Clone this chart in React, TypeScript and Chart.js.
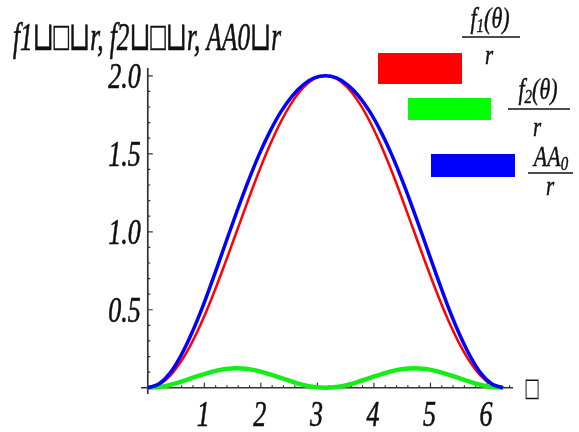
import { useEffect, useRef } from "react";
import { Chart, registerables } from "chart.js";

Chart.register(...registerables);

// theta samples (0 .. 2π)
const thetas = [
  0, 0.196, 0.393, 0.589, 0.785, 0.982, 1.178, 1.374, 1.571, 1.767, 1.963,
  2.16, 2.356, 2.553, 2.749, 2.945, 3.142, 3.338, 3.534, 3.731, 3.927, 4.123,
  4.32, 4.516, 4.712, 4.909, 5.105, 5.301, 5.498, 5.694, 5.89, 6.087, 6.283,
];
// f1(θ)/r  (red)
const f1Values = [
  0, 0.019, 0.076, 0.169, 0.293, 0.444, 0.617, 0.805, 1.0, 1.195, 1.383,
  1.556, 1.707, 1.831, 1.924, 1.981, 2.0, 1.981, 1.924, 1.831, 1.707, 1.556,
  1.383, 1.195, 1.0, 0.805, 0.617, 0.444, 0.293, 0.169, 0.076, 0.019, 0,
];
// f2(θ)/r  (green)
const f2Values = [
  0, 0.005, 0.018, 0.039, 0.063, 0.086, 0.107, 0.12, 0.125, 0.12, 0.107,
  0.086, 0.063, 0.039, 0.018, 0.005, 0, 0.005, 0.018, 0.039, 0.063, 0.086,
  0.107, 0.12, 0.125, 0.12, 0.107, 0.086, 0.063, 0.039, 0.018, 0.005, 0,
];
// AA0/r  (blue)
const aa0Values = [
  0, 0.024, 0.094, 0.208, 0.356, 0.53, 0.724, 0.925, 1.125, 1.315, 1.49,
  1.642, 1.77, 1.87, 1.942, 1.986, 2.0, 1.986, 1.942, 1.87, 1.77, 1.642,
  1.49, 1.315, 1.125, 0.925, 0.724, 0.53, 0.356, 0.208, 0.094, 0.024, 0,
];

const xTickValues = [1, 2, 3, 4, 5, 6];
const xTickLabels = ["1", "2", "3", "4", "5", "6"];
const yTickValues = [0.5, 1.0, 1.5, 2.0];
const yTickLabels = ["0.5", "1.0", "1.5", "2.0"];
const titleText = "f1\u2294\u25A1\u2294r, f2\u2294\u25A1\u2294r, AA0\u2294r";
const xAxisLabel = "\u25A1";

const SERIF = "'Liberation Serif', 'DejaVu Serif', serif";
const STRETCH = 1.35;

function stretchText(
  ctx: CanvasRenderingContext2D,
  text: string,
  x: number,
  y: number,
  font: string,
  align: CanvasTextAlign,
  sy = STRETCH,
  sx = 1,
  bold = 0.45
) {
  ctx.save();
  ctx.font = font;
  ctx.textAlign = align;
  ctx.textBaseline = "alphabetic";
  ctx.translate(x, y);
  ctx.scale(sx, sy);
  ctx.fillText(text, 0, 0);
  if (bold > 0) {
    ctx.lineWidth = bold;
    ctx.strokeStyle = ctx.fillStyle as string;
    ctx.strokeText(text, 0, 0);
  }
  ctx.restore();
}

type Part = { t: string; size: number; dy: number };

function richText(
  ctx: CanvasRenderingContext2D,
  parts: Part[],
  cx: number,
  baseline: number,
  sy = 1.3
) {
  ctx.save();
  let total = 0;
  const widths = parts.map((p) => {
    ctx.font = `italic ${p.size}px ${SERIF}`;
    const w = ctx.measureText(p.t).width;
    total += w;
    return w;
  });
  let x = cx - total / 2;
  parts.forEach((p, i) => {
    stretchText(ctx, p.t, x, baseline + p.dy, `italic ${p.size}px ${SERIF}`, "left", sy, 1, 0.35);
    x += widths[i];
  });
  ctx.restore();
}

const decorPlugin = {
  id: "decor",
  beforeDatasetsDraw(chart: any) {
    const ctx: CanvasRenderingContext2D = chart.ctx;
    const xs = chart.scales.x;
    const ys = chart.scales.y;
    const area = chart.chartArea;
    const X0 = xs.getPixelForValue(0);
    const Y0 = ys.getPixelForValue(0);
    ctx.save();
    ctx.strokeStyle = "#333";
    ctx.lineWidth = 1.7;
    ctx.beginPath();
    ctx.moveTo(area.left, Y0);
    ctx.lineTo(area.right, Y0);
    ctx.moveTo(X0, area.bottom);
    ctx.lineTo(X0, area.top);
    ctx.stroke();
    ctx.lineWidth = 1.2;
    ctx.beginPath();
    for (let i = 1; i <= 32; i++) {
      const v = i * 0.2;
      const px = xs.getPixelForValue(v);
      const len = i % 5 === 0 ? 5 : 2.5;
      ctx.moveTo(px, Y0);
      ctx.lineTo(px, Y0 - len);
    }
    for (let i = 1; i <= 20; i++) {
      const v = i * 0.1;
      const py = ys.getPixelForValue(v);
      const len = i % 5 === 0 ? 5 : 2.5;
      ctx.moveTo(X0, py);
      ctx.lineTo(X0 + len, py);
    }
    ctx.stroke();
    ctx.restore();
  },
  afterDraw(chart: any) {
    const ctx: CanvasRenderingContext2D = chart.ctx;
    const xs = chart.scales.x;
    const ys = chart.scales.y;
    const X0 = xs.getPixelForValue(0);
    const Y0 = ys.getPixelForValue(0);
    ctx.save();
    ctx.fillStyle = "#111";
    const tickFont = `italic 26px ${SERIF}`;
    xTickValues.forEach((v, i) => {
      stretchText(ctx, xTickLabels[i], xs.getPixelForValue(v) - 1, Y0 + 38, tickFont, "center");
    });
    yTickValues.forEach((v, i) => {
      stretchText(ctx, yTickLabels[i], X0 - 7, ys.getPixelForValue(v) + 12, tickFont, "right");
    });

    // title
    const titleFont = `italic 28px ${SERIF}`;
    ctx.font = titleFont;
    const tw = ctx.measureText(titleText).width;
    const sx = 268 / tw;
    stretchText(ctx, titleText, 13, 50, titleFont, "left", 1.42, sx);

    // x-axis label (box)
    stretchText(ctx, xAxisLabel, 532, 396, `20px 'DejaVu Sans', sans-serif`, "center", 1.3, 0.85, 0);

    // legend
    ctx.fillStyle = "#ff0000";
    ctx.fillRect(378, 53, 84, 31);
    ctx.fillStyle = "#00ff00";
    ctx.fillRect(408, 98, 83, 22);
    ctx.fillStyle = "#0000ff";
    ctx.fillRect(431, 154, 84, 23);

    ctx.fillStyle = "#111";
    ctx.strokeStyle = "#111";
    ctx.lineWidth = 1.3;
    richText(ctx, [
      { t: "f", size: 22, dy: 0 },
      { t: "1", size: 15, dy: 4 },
      { t: "(\u03B8)", size: 22, dy: 0 },
    ], 490, 28);
    ctx.beginPath();
    ctx.moveTo(462, 37);
    ctx.lineTo(520, 37);
    ctx.stroke();
    richText(ctx, [{ t: "r", size: 21, dy: 0 }], 489, 64);

    richText(ctx, [
      { t: "f", size: 22, dy: 0 },
      { t: "2", size: 15, dy: 4 },
      { t: "(\u03B8)", size: 22, dy: 0 },
    ], 538, 99);
    ctx.beginPath();
    ctx.moveTo(508, 109);
    ctx.lineTo(570, 109);
    ctx.stroke();
    richText(ctx, [{ t: "r", size: 21, dy: 0 }], 537, 136);

    richText(ctx, [
      { t: "AA", size: 22, dy: 0 },
      { t: "0", size: 15, dy: 4 },
    ], 551, 166);
    ctx.beginPath();
    ctx.moveTo(528, 173);
    ctx.lineTo(573, 173);
    ctx.stroke();
    richText(ctx, [{ t: "r", size: 21, dy: 0 }], 550, 195);
    ctx.restore();
  },
};

export default function App() {
  const ref = useRef<HTMLCanvasElement>(null);
  useEffect(() => {
    document.body.style.margin = "0";
    const canvas = ref.current!;
    const mk = (vals: number[]) => thetas.map((t, i) => ({ x: t, y: vals[i] }));
    const chart = new Chart(canvas, {
      type: "line",
      data: {
        datasets: [
          {
            label: "f1(θ)/r",
            data: mk(f1Values),
            borderColor: "#ff0000",
            borderWidth: 2.5,
            cubicInterpolationMode: "monotone",
            order: 3,
            clip: false,
          } as any,
          {
            label: "f2(θ)/r",
            data: mk(f2Values),
            borderColor: "#16ec16",
            borderWidth: 4.5,
            cubicInterpolationMode: "monotone",
            order: 2,
            clip: false,
          } as any,
          {
            label: "AA0/r",
            data: mk(aa0Values),
            borderColor: "#0000ff",
            borderWidth: 3.5,
            cubicInterpolationMode: "monotone",
            order: 1,
            clip: false,
          } as any,
        ],
      },
      options: {
        responsive: false,
        animation: false,
        devicePixelRatio: 1,
        layout: { padding: { left: 141, right: 66, top: 68, bottom: 38 } },
        scales: {
          x: { type: "linear", min: -0.12, max: 6.46, display: false },
          y: { type: "linear", min: -0.04, max: 2.05, display: false },
        },
        elements: { point: { radius: 0 } },
        plugins: { legend: { display: false }, tooltip: { enabled: false } },
      },
      plugins: [decorPlugin],
    });
    return () => chart.destroy();
  }, []);
  return (
    <div style={{ position: "absolute", left: 0, top: 0, width: 579, height: 432, background: "#fff" }}>
      <canvas ref={ref} width={579} height={432} style={{ display: "block" }} />
    </div>
  );
}
